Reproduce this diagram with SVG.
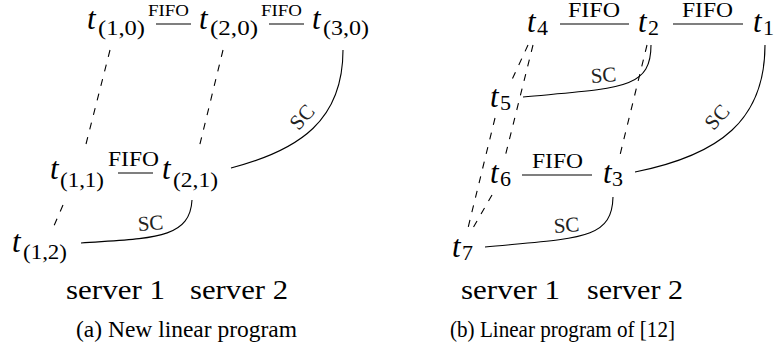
<svg xmlns="http://www.w3.org/2000/svg" width="774" height="350" viewBox="0 0 774 350">
<style>
text{font-family:"Liberation Serif","DejaVu Serif",serif;fill:#000}
.t{font-style:italic;font-size:31px}
.s{font-size:22px}
.f{font-size:20px}
.fs{font-size:17px}
.sc{font-size:21px;fill:#222}
.lab{font-size:27px}
.cap{font-size:23px}
.e{stroke:#000;stroke-width:1.1;fill:none}
.d{stroke:#000;stroke-width:1.1;fill:none;stroke-dasharray:7 8}
</style>
<rect width="774" height="350" fill="#fff"/>
<g id="connectors">
<path class="e" d="M156,24H191"/>
<path class="e" d="M269,24H304"/>
<path class="e" d="M118,173H153"/>
<path class="d" d="M110,50L85,148"/>
<path class="d" d="M223,50L199,148"/>
<path class="d" d="M63,205L53,228"/>
<path class="e" d="M343,50C343,120 300,150 231,168"/>
<path class="e" d="M192,200C190,240 150,238 81,243"/>
<text class="sc" transform="translate(302,117) rotate(-48)" text-anchor="middle" dy="7">SC</text>
<text class="sc" transform="translate(151,230) rotate(-4)" text-anchor="middle">SC</text>
<path class="e" d="M560,24H629"/>
<path class="e" d="M673,24H743"/>
<path class="e" d="M522,175H592"/>
<path class="d" d="M528,45L510,84"/>
<path class="d" d="M533,45L505,157"/>
<path class="d" d="M495,118L468,228"/>
<path class="d" d="M492,195L473,228"/>
<path class="d" d="M647,45L620,155"/>
<path class="e" d="M651,45C651,90 620,88 523,97"/>
<path class="e" d="M765,45C765,120 720,155 635,172"/>
<path class="e" d="M613,197C612,240 580,238 485,247"/>
<text class="sc" transform="translate(604,82) rotate(-4)" text-anchor="middle">SC</text>
<text class="sc" transform="translate(717,117) rotate(-48)" text-anchor="middle" dy="7">SC</text>
<text class="sc" transform="translate(567,232) rotate(-4)" text-anchor="middle">SC</text>
</g>
<g id="fifo-labels">
<text class="fs" x="148" y="16" textLength="41" lengthAdjust="spacingAndGlyphs">FIFO</text>
<text class="fs" x="261" y="16" textLength="41" lengthAdjust="spacingAndGlyphs">FIFO</text>
<text class="f" x="108" y="166" textLength="51" lengthAdjust="spacingAndGlyphs">FIFO</text>
<text class="f" x="568" y="17" textLength="52" lengthAdjust="spacingAndGlyphs">FIFO</text>
<text class="f" x="682" y="17" textLength="51" lengthAdjust="spacingAndGlyphs">FIFO</text>
<text class="f" x="532" y="168" textLength="51" lengthAdjust="spacingAndGlyphs">FIFO</text>
</g>
<g id="t10"><text class="t" x="87" y="29">t</text><text class="s" x="98" y="35" textLength="47" lengthAdjust="spacingAndGlyphs">(1,0)</text></g>
<g id="t20"><text class="t" x="199" y="29">t</text><text class="s" x="210" y="35" textLength="48" lengthAdjust="spacingAndGlyphs">(2,0)</text></g>
<g id="t30"><text class="t" x="312" y="29">t</text><text class="s" x="323" y="35" textLength="46" lengthAdjust="spacingAndGlyphs">(3,0)</text></g>
<g id="t11"><text class="t" x="50" y="179">t</text><text class="s" x="60" y="187" textLength="44" lengthAdjust="spacingAndGlyphs">(1,1)</text></g>
<g id="t21"><text class="t" x="162" y="179">t</text><text class="s" x="173" y="187" textLength="45" lengthAdjust="spacingAndGlyphs">(2,1)</text></g>
<g id="t12"><text class="t" x="12" y="252">t</text><text class="s" x="23" y="259" textLength="44" lengthAdjust="spacingAndGlyphs">(1,2)</text></g>
<g id="t4"><text class="t" x="527" y="32">t</text><text class="s" x="537" y="35">4</text></g>
<g id="t2"><text class="t" x="638" y="32">t</text><text class="s" x="648" y="35">2</text></g>
<g id="t1"><text class="t" x="753" y="32">t</text><text class="s" x="763" y="35">1</text></g>
<g id="t5"><text class="t" x="490" y="107">t</text><text class="s" x="500" y="110">5</text></g>
<g id="t6"><text class="t" x="490" y="183">t</text><text class="s" x="500" y="186">6</text></g>
<g id="t3"><text class="t" x="603" y="183">t</text><text class="s" x="612" y="186">3</text></g>
<g id="t7"><text class="t" x="452" y="257">t</text><text class="s" x="462" y="260">7</text></g>
<g id="labels">
<text class="lab" x="66" y="299" textLength="99" lengthAdjust="spacingAndGlyphs">server 1</text>
<text class="lab" x="190" y="299" textLength="98" lengthAdjust="spacingAndGlyphs">server 2</text>
<text class="cap" x="76" y="337" textLength="221" lengthAdjust="spacingAndGlyphs">(a) New linear program</text>
<text class="lab" x="461" y="299" textLength="99" lengthAdjust="spacingAndGlyphs">server 1</text>
<text class="lab" x="587" y="299" textLength="96" lengthAdjust="spacingAndGlyphs">server 2</text>
<text class="cap" x="450" y="337" textLength="225" lengthAdjust="spacingAndGlyphs">(b) Linear program of [12]</text>
</g>
</svg>
